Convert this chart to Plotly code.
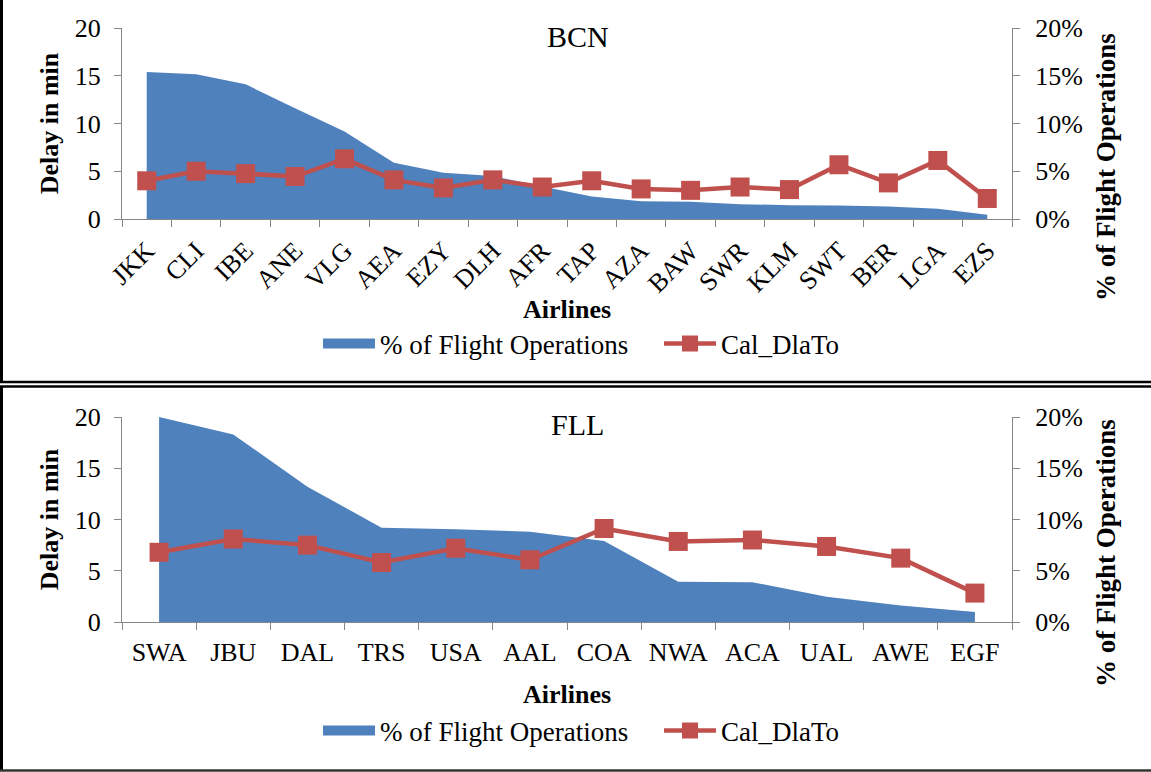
import plotly.graph_objects as go

W, H = 1151, 772

# ---------------- data ----------------
bcn_airlines = ["JKK", "CLI", "IBE", "ANE", "VLG", "AEA", "EZY", "DLH", "AFR",
                "TAP", "AZA", "BAW", "SWR", "KLM", "SWT", "BER", "LGA", "EZS"]
bcn_pct_ops = [15.4, 15.15, 14.1, 11.6, 9.15, 5.9, 4.85, 4.5, 3.4,
               2.35, 1.85, 1.8, 1.55, 1.45, 1.42, 1.3, 1.08, 0.45]
bcn_delay = [4.0, 5.0, 4.75, 4.45, 6.3, 4.1, 3.25, 4.1, 3.35,
             4.0, 3.15, 3.0, 3.35, 3.08, 5.68, 3.78, 6.13, 2.15]

fll_airlines = ["SWA", "JBU", "DAL", "TRS", "USA", "AAL", "COA", "NWA", "ACA",
                "UAL", "AWE", "EGF"]
fll_pct_ops = [20.0, 18.3, 13.2, 9.2, 9.05, 8.8, 7.9, 3.93, 3.88, 2.47, 1.62, 0.97]
fll_delay = [6.8, 8.1, 7.5, 5.8, 7.2, 6.07, 9.12, 7.86, 8.0, 7.37, 6.23, 2.82]

# ---------------- style ----------------
FONT = '"Liberation Serif", "Times New Roman", Times, serif'
BLUE = "#4F81BD"
RED = "#C0504D"
AX = "#868686"
TICKF = dict(family=FONT, size=26, color="black")
TITLEF = dict(family=FONT, size=26, color="black")

def px_x(x):
    return x / W

def px_y(y):
    return 1 - y / H

XDOM = [px_x(122), px_x(1012)]
TOP_DOM = [px_y(219), px_y(28)]
BOT_DOM = [px_y(622), px_y(417)]

fig = go.Figure()

def add_panel(cats, pct, delay, xa, ya_pct, ya_del, leg):
    fig.add_trace(go.Scatter(
        x=cats, y=[v / 100 for v in pct], name="% of Flight Operations",
        mode="none", fill="tozeroy", fillcolor=BLUE, xaxis=xa, yaxis=ya_pct,
        showlegend=False, hoverinfo="x+y"))
    # legend entry for the area (drawn as a thick bar)
    fig.add_trace(go.Scatter(
        x=[None], y=[None], name="% of Flight Operations", mode="lines",
        line=dict(color=BLUE, width=14), xaxis=xa, yaxis=ya_pct, legend=leg))
    fig.add_trace(go.Scatter(
        x=cats, y=delay, name="Cal_DlaTo", mode="lines+markers",
        line=dict(color=RED, width=4.5), marker=dict(symbol="square", size=19, color=RED),
        xaxis=xa, yaxis=ya_del, legend=leg))

add_panel(bcn_airlines, bcn_pct_ops, bcn_delay, "x", "y", "y2", "legend")
add_panel(fll_airlines, fll_pct_ops, fll_delay, "x2", "y3", "y4", "legend2")

xcommon = dict(type="category", tickson="boundaries", ticks="outside", ticklen=7,
               tickcolor=AX, showline=True, linecolor=AX, linewidth=1.3,
               showgrid=False, zeroline=False, tickfont=TICKF, automargin=False,
               domain=XDOM)
ypct = dict(range=[0, 0.2], dtick=0.05, tickformat=".0%", side="right",
            ticks="outside", ticklen=7, tickcolor=AX, showline=True, linecolor=AX,
            linewidth=1.3, showgrid=False, zeroline=False, tickfont=TICKF,
            automargin=False, ticklabelstandoff=10)
ydel = dict(range=[0, 20], dtick=5, side="left", ticks="outside", ticklen=7,
            tickcolor=AX, showline=True, linecolor=AX, linewidth=1.3,
            showgrid=False, zeroline=False, tickfont=TICKF, automargin=False,
            ticklabelstandoff=8,
            title=dict(text="<b>Delay in min</b>", font=TITLEF, standoff=8))

legcommon = dict(orientation="h", xanchor="left", yanchor="middle",
                 font=dict(family=FONT, size=27, color="black"),
                 itemwidth=52, entrywidth=274, entrywidthmode="pixels",
                 bgcolor="rgba(0,0,0,0)", tracegroupgap=0)

fig.update_layout(
    width=W, height=H,
    margin=dict(l=0, r=0, t=0, b=0),
    paper_bgcolor="white", plot_bgcolor="rgba(0,0,0,0)",
    font=dict(family=FONT, color="black"),
    xaxis=dict(xcommon, anchor="y", tickangle=-45, range=[-0.5, len(bcn_airlines) - 0.5],
               ticklabelstandoff=5,
               title=dict(text="<b>Airlines</b>", font=TITLEF, standoff=1)),
    yaxis=dict(ypct, domain=TOP_DOM, anchor="x"),
    yaxis2=dict(ydel, overlaying="y", anchor="x"),
    xaxis2=dict(xcommon, anchor="y3", tickangle=0, range=[-0.5, len(fll_airlines) - 0.5],
                ticklabelstandoff=7,
                title=dict(text="<b>Airlines</b>", font=TITLEF, standoff=18)),
    yaxis3=dict(ypct, domain=BOT_DOM, anchor="x2"),
    yaxis4=dict(ydel, overlaying="y3", anchor="x2"),
    legend=dict(legcommon, x=px_x(318), y=px_y(344)),
    legend2=dict(legcommon, x=px_x(318), y=px_y(731)),
    annotations=[
        dict(text="BCN", x=px_x(578), y=px_y(37), xref="paper", yref="paper",
             yanchor="middle", showarrow=False,
             font=dict(family=FONT, size=30, color="black")),
        dict(text="FLL", x=px_x(578), y=px_y(425), xref="paper", yref="paper",
             yanchor="middle", showarrow=False,
             font=dict(family=FONT, size=30, color="black")),
        dict(text="<b>% of Flight Operations</b>", x=px_x(1106), y=px_y(167),
             xref="paper", yref="paper", textangle=-90, showarrow=False,
             xanchor="center", yanchor="middle",
             font=dict(family=FONT, size=27, color="black")),
        dict(text="<b>% of Flight Operations</b>", x=px_x(1106), y=px_y(553),
             xref="paper", yref="paper", textangle=-90, showarrow=False,
             xanchor="center", yanchor="middle",
             font=dict(family=FONT, size=27, color="black")),
    ],
    shapes=[
        dict(type="line", xref="paper", yref="paper", x0=px_x(1.5), x1=px_x(1.5),
             y0=px_y(0), y1=px_y(383), line=dict(color="black", width=3)),
        dict(type="line", xref="paper", yref="paper", x0=0, x1=1,
             y0=px_y(382), y1=px_y(382), line=dict(color="black", width=2.5)),
        dict(type="line", xref="paper", yref="paper", x0=0, x1=1,
             y0=px_y(386.5), y1=px_y(386.5), line=dict(color="black", width=2.5)),
        dict(type="line", xref="paper", yref="paper", x0=px_x(1.5), x1=px_x(1.5),
             y0=px_y(386), y1=px_y(771), line=dict(color="black", width=3)),
        dict(type="line", xref="paper", yref="paper", x0=0, x1=1,
             y0=px_y(770.5), y1=px_y(770.5), line=dict(color="#333333", width=2.5)),
    ],
    showlegend=True,
)

fig.write_html("out.html", config={"displayModeBar": False},
               post_script="document.body.style.margin='0';document.body.style.overflow='hidden';")
